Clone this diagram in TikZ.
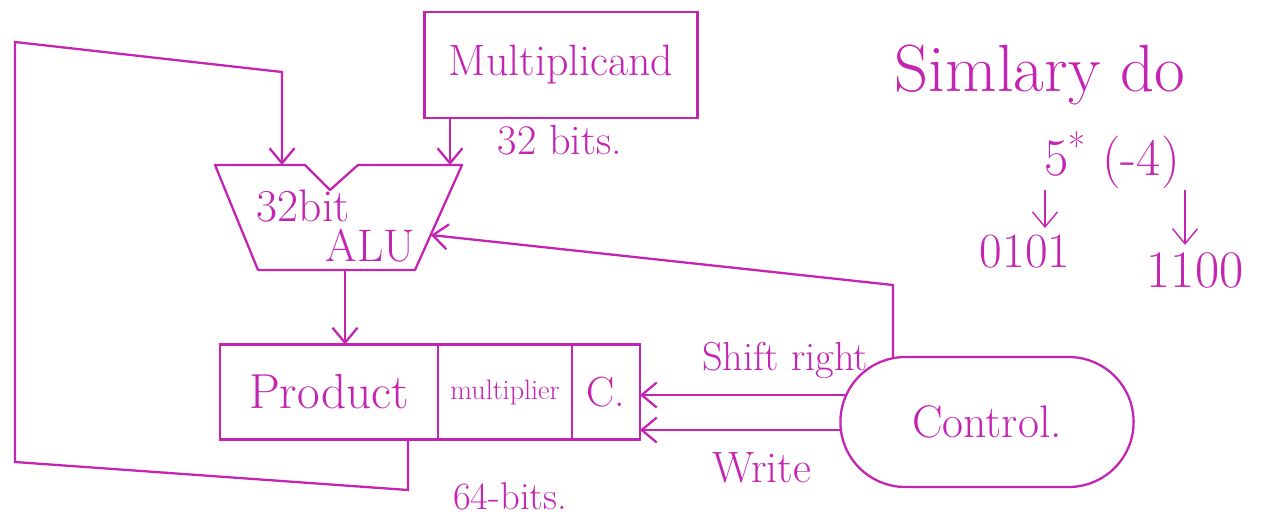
\documentclass[tikz,border=0pt]{standalone}
\usepackage{xcolor}
\usepackage{tikz}
\usetikzlibrary{calc}
\usetikzlibrary{arrows.meta}
\usetikzlibrary{positioning}
\usetikzlibrary{shapes.misc}
\definecolor{ink}{RGB}{196,36,178}
\tikzset{>=latex}
\newcommand{\fsz}[1]{\fontsize{#1}{#1}\selectfont}
\tikzstyle{reg} = [rectangle, draw=ink, line width=1.3pt, minimum height=1.9cm, inner sep=0pt, outer sep=0pt, text=ink]
\tikzstyle{wire} = [-{Straight Barb[length=3mm, width=5mm]}, draw=ink, line width=1.3pt]
\tikzstyle{bus} = [-, draw=ink, line width=1.3pt]
\tikzstyle{note} = [text=ink, inner sep=1pt]

\begin{document}
\begin{tikzpicture}[x=0.02cm, y=-0.02cm]
\useasboundingbox (0,0) rectangle (1272,522);
% registers
\node [reg, minimum width=5.46cm, minimum height=2.12cm, font=\fsz{25}] (mcand) at (561,65) {Multiplicand};
\node [reg, minimum width=4.36cm, font=\fsz{28}] (prod) at (329,392) {Product};
\node [reg, minimum width=2.68cm, font=\fsz{16}, right=0pt of prod] (mplier) {multiplier};
\node [reg, minimum width=1.36cm, font=\fsz{24}, right=0pt of mplier] (cbit) {C.};
\node [rounded rectangle, draw=ink, line width=1.3pt, minimum width=6.1cm, minimum height=2.6cm, text=ink, font=\fsz{26}] (control) at (987,422) {Control.};
% alu
\coordinate (a1) at (215,165);
\coordinate (a2) at (305,165);
\coordinate (a3) at (330,190);
\coordinate (a4) at (358,165);
\coordinate (a5) at (462,165);
\coordinate (a6) at (415,270);
\coordinate (a7) at (258,270);
\draw [bus, line join=round] (a1) -- (a2) -- (a3) -- (a4) -- (a5) -- (a6) -- (a7) -- cycle;
\node [note, font=\fontsize{26}{23}\selectfont, align=left] (alu) at (336,226) {32bit\\\hspace*{1.5em}ALU};
% labels
\node [note, font=\fsz{24}] (w32) at (560,140) {32 bits.};
\node [note, font=\fsz{22}] (w64) at (510,496) {64-bits.};
\node [note, font=\fsz{23}] (shr) at (785,360) {Shift right};
\node [note, font=\fsz{25}] (wr) at (762,468) {Write};
% data paths
\coordinate (aluin) at (431,235);
\coordinate (ctltop) at (893,358);
\coordinate (ctlbend) at (893,285);
\coordinate (fb) at (408,440);
\coordinate (fb1) at (408,490);
\coordinate (fb2) at (15,462);
\coordinate (fb3) at (15,42);
\coordinate (fb4) at (282,72);
\draw [wire] (mcand.south -| 450,0) -- (a4 -| 450,0);
\draw [wire] (a7 -| 345,0) -- (prod.north -| 345,0);
\draw [wire] (fb) -- (fb1) -- (fb2) -- (fb3) -- (fb4) -- (a1 -| fb4);
\draw [wire] (ctltop) -- (ctlbend) -- (aluin);
\draw [wire] ([xshift=0.12cm, yshift=0.54cm]control.west) -- ([yshift=0.54cm]control.west -| cbit.east);
\draw [wire] ([xshift=0.01cm, yshift=-0.16cm]control.west) -- ([yshift=-0.16cm]control.west -| cbit.east);
% side note
\node [note, font=\fsz{38}] (simil) at (1040,75) {Simlary do};
\node [note, font=\fsz{30}] (expr) at (1112,160) {5\textsuperscript{*} (-4)};
\node [note, font=\fsz{28}] (bin5) at (1025,252) {0101};
\node [note, font=\fsz{30}] (bin4) at (1195,270) {1100};
\coordinate (fivetop) at (1045,190);
\coordinate (fourtop) at (1185,190);
\draw [wire, line width=0.8pt] (fivetop) -- ([yshift=3pt]fivetop |- bin5.north);
\draw [wire, line width=0.8pt] (fourtop) -- ([yshift=3pt]fourtop |- bin4.north);
\end{tikzpicture}
\end{document}
